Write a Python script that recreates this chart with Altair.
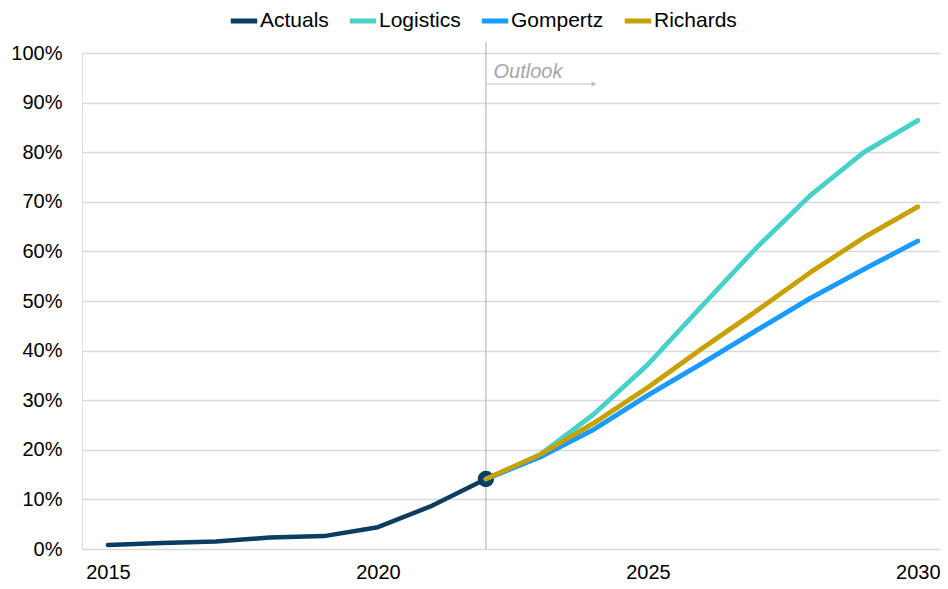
import altair as alt
import pandas as pd

series_names = ["Actuals", "Logistics", "Gompertz", "Richards"]
colors = ["#0b3d63", "#48d1c9", "#1a9bff", "#c8a000"]

actual_years = [2015, 2016, 2017, 2018, 2019, 2020, 2021, 2022]
actual_vals = [0.008, 0.012, 0.015, 0.023, 0.026, 0.044, 0.087, 0.141]

fc_years = [2022, 2023, 2024, 2025, 2026, 2027, 2028, 2029, 2030]
logistics = [0.141, 0.190, 0.272, 0.372, 0.490, 0.606, 0.712, 0.800, 0.864]
gompertz = [0.141, 0.185, 0.241, 0.310, 0.374, 0.440, 0.505, 0.564, 0.621]
richards = [0.141, 0.190, 0.254, 0.326, 0.404, 0.479, 0.557, 0.628, 0.690]

rows = []
for y, v in zip(actual_years, actual_vals):
    rows.append({"series": "Actuals", "year": y, "value": v, "order": 0})
for name, vals, o in [("Logistics", logistics, 1), ("Gompertz", gompertz, 2), ("Richards", richards, 3)]:
    for y, v in zip(fc_years, vals):
        rows.append({"series": name, "year": y, "value": v, "order": o})
df = pd.DataFrame(rows)

FONT = "Liberation Sans"
x_scale = alt.Scale(domain=[2014.52, 2030.41], nice=False, zero=False)
y_scale = alt.Scale(domain=[0, 1], nice=False)
color_scale = alt.Scale(domain=series_names, range=colors)

x_enc = alt.X("year:Q", scale=x_scale,
              axis=alt.Axis(values=[2015, 2020, 2025, 2030], format="d", title=None,
                            grid=False, ticks=False, domain=False, labelFontSize=20,
                            labelPadding=13, labelColor="#000000", labelFont=FONT))
y_enc = alt.Y("value:Q", scale=y_scale,
              axis=alt.Axis(values=[i / 10 for i in range(11)], format=".0%", title=None,
                            grid=True, gridColor="#d9d9d9", gridWidth=1.3, ticks=False,
                            domain=False, labelFontSize=20, labelPadding=20,
                            labelColor="#000000", labelFont=FONT))

vline = alt.Chart(pd.DataFrame({"year": [2022]})).mark_rule(color="#bfbfbf", strokeWidth=1.3).encode(
    x=alt.X("year:Q", scale=x_scale), y=alt.datum(0, scale=y_scale), y2=alt.datum(1.022))

arrow = alt.Chart(pd.DataFrame({"a": [2022], "b": [2024.0]})).mark_rule(color="#bfbfbf", strokeWidth=1).encode(
    x=alt.X("a:Q", scale=x_scale), x2="b:Q", y=alt.datum(0.9375, scale=y_scale))
arrowhead = alt.Chart(pd.DataFrame({"b": [2024.0]})).mark_point(
    shape="triangle-right", filled=True, color="#bfbfbf", size=30, opacity=1).encode(
    x=alt.X("b:Q", scale=x_scale), y=alt.datum(0.9375, scale=y_scale))
outlook = alt.Chart(pd.DataFrame({"a": [2022.14], "t": ["Outlook"]})).mark_text(
    align="left", baseline="middle", fontSize=20, fontStyle="italic", color="#a6a6a6", font=FONT).encode(
    x=alt.X("a:Q", scale=x_scale), y=alt.datum(0.962, scale=y_scale), text="t:N")

lines = alt.Chart(df).mark_line(strokeWidth=4.5, strokeCap="round", strokeJoin="round").encode(
    x=x_enc, y=y_enc,
    color=alt.Color("series:N", scale=color_scale, sort=series_names,
                    legend=alt.Legend(title=None, orient="none", direction="horizontal",
                                      legendX=146, legendY=-48, symbolType="stroke",
                                      symbolSize=700, symbolStrokeWidth=5, labelFontSize=21,
                                      labelFont=FONT, labelColor="#000000", labelOffset=0,
                                      columnPadding=10)),
    detail="series:N", order="order:Q")

fc_lines = alt.Chart(df[df["series"] != "Actuals"]).mark_line(
    strokeWidth=4.5, strokeCap="round", strokeJoin="round").encode(
    x=alt.X("year:Q", scale=x_scale), y=alt.Y("value:Q", scale=y_scale),
    color=alt.Color("series:N", scale=color_scale, legend=None), detail="series:N")

dot = alt.Chart(pd.DataFrame({"year": [actual_years[-1]], "value": [actual_vals[-1]]})).mark_circle(
    size=270, color="#0b3d63", opacity=1).encode(
    x=alt.X("year:Q", scale=x_scale), y=alt.Y("value:Q", scale=y_scale))

chart = alt.layer(vline, arrow, arrowhead, outlook, lines, dot, fc_lines).properties(
    width=858, height=496, autosize=alt.AutoSizeParams(type="none"),
    padding={"left": 74, "top": 45, "right": 0, "bottom": 32}
).configure_view(stroke=None).configure(font=FONT)

chart.save("out.html", embed_options={"renderer": "svg", "actions": False})
